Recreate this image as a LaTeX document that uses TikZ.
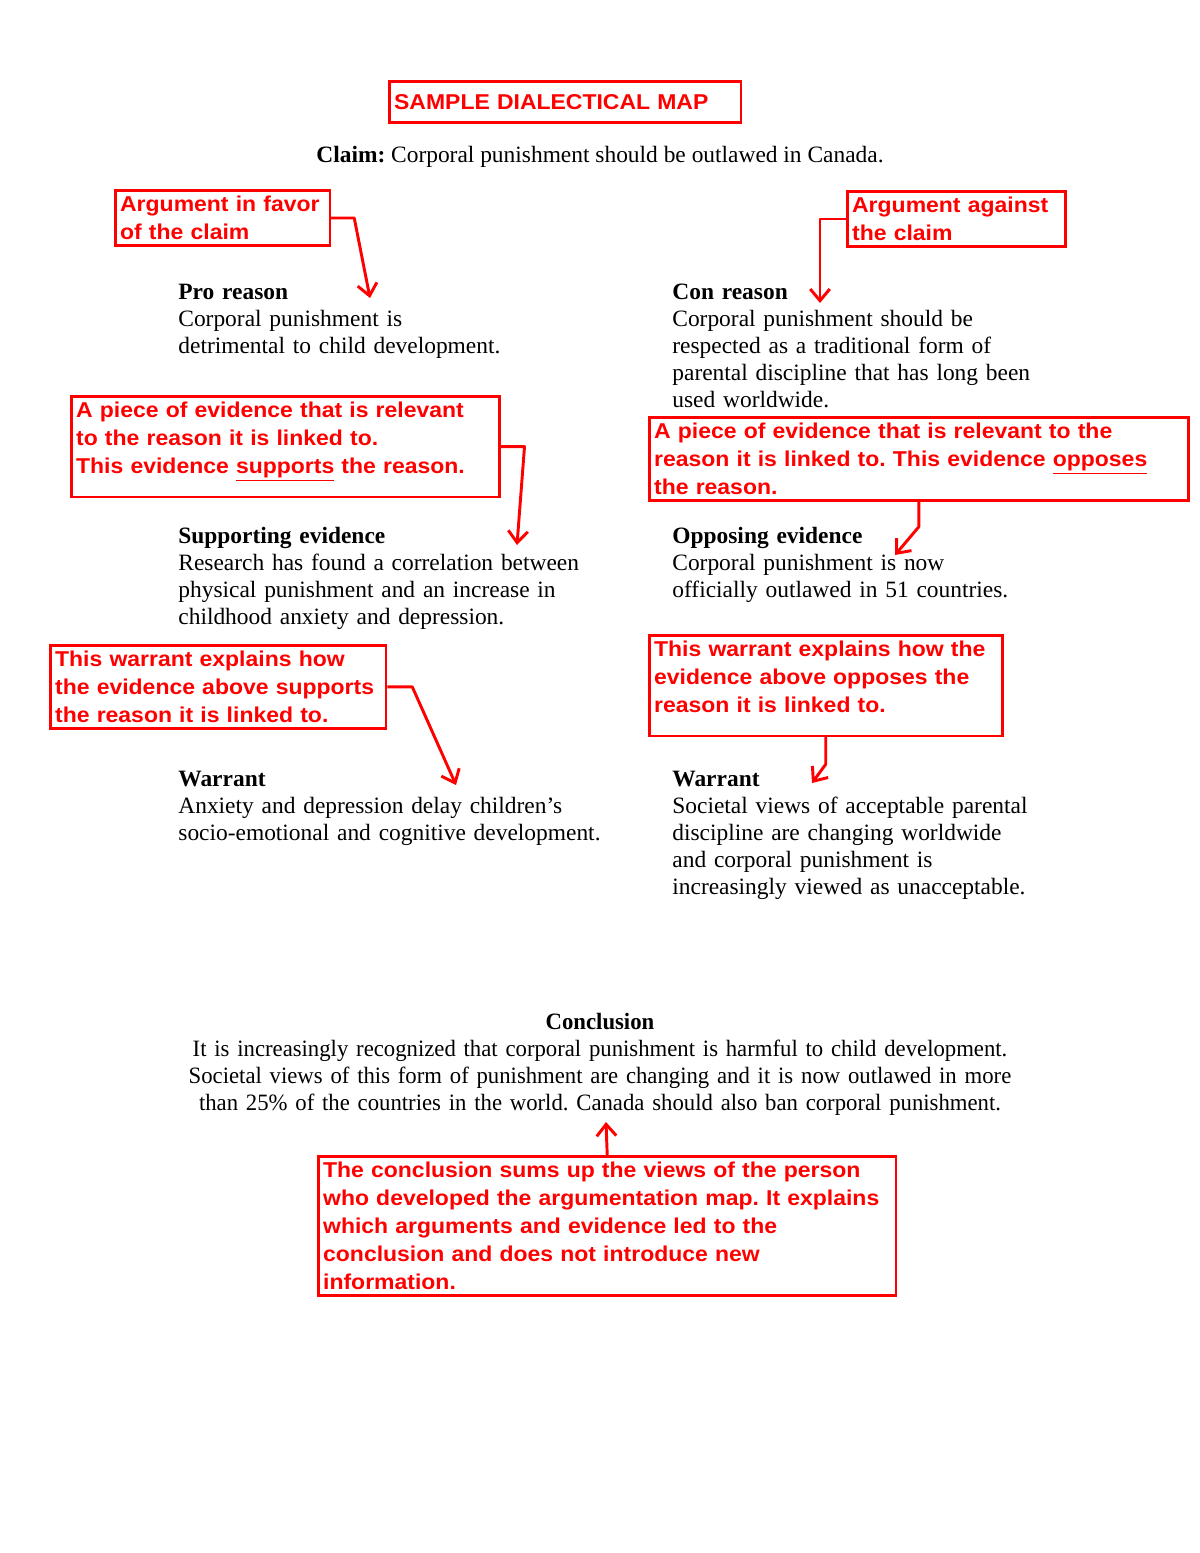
\documentclass[tikz,border=0pt]{standalone}
\usepackage{fontspec}
\setmainfont{Liberation Serif}
\newfontfamily\arialfont{Liberation Sans}[FakeStretch=1.07]
\newfontfamily\narrowserif{Liberation Serif}[FakeStretch=0.97]
\usetikzlibrary{arrows.meta, calc}
\frenchspacing
\tikzstyle{note}   = [rectangle, draw=red, line width=1.3pt, text=red, align=left, anchor=north west,
                      inner xsep=2.5pt, inner ysep=3pt, font=\arialfont\bfseries\fontsize{11}{14.3}\selectfont]
\tikzstyle{body}   = [anchor=north west, align=left, inner sep=0pt, text width=9cm,
                      font=\fontsize{12}{13.8}\selectfont]
\tikzstyle{arrow}  = [red, line width=1.5pt, line join=round, -{Straight Barb[length=6pt, width=10pt]}]

\begin{document}
\begin{tikzpicture}[x=0.018cm, y=-0.018cm]
  \useasboundingbox (0,0) rectangle (1200,1553);

  \node[note, text width=6.16cm, minimum height=0.74cm] (title) at (388,80) {SAMPLE DIALECTICAL MAP};
  \node[anchor=base, font=\fontsize{12}{13.8}\selectfont] (claim) at (600,162) {\textbf{Claim:} Corporal punishment should be outlawed in Canada.};

  \node[note, text width=3.69cm] (favor)   at (114,189) {Argument in favor\\ of the claim};
  \node[note, text width=3.75cm] (against) at (846,190) {Argument against\\ the claim};

  \node[body] (pro) at (178,284) {\textbf{Pro reason}\\ Corporal punishment is\\ detrimental to child development.};
  \node[body] (con) at (672,284) {\textbf{Con reason}\\ Corporal punishment should be\\ respected as a traditional form of\\ parental discipline that has long been\\ used worldwide.};

  \node[note, text width=7.53cm] (support) at (70,395) {A piece of evidence that is relevant\\ to the reason it is linked to.\\ This evidence \underline{supports} the reason.\rule[-9pt]{0pt}{0pt}};
  \node[note, text width=9.53cm] (oppose)  at (648,416) {A piece of evidence that is relevant to the\\ reason it is linked to. This evidence \underline{opposes}\\ the reason.};

  \node[body] (suppev) at (178,527) {\textbf{Supporting evidence}\\ Research has found a correlation between\\ physical punishment and an increase in\\ childhood anxiety and depression.};
  \node[body] (oppev)  at (672,527) {\textbf{Opposing evidence}\\ Corporal punishment is now\\ officially outlawed in 51 countries.};

  \node[note, text width=5.87cm] (wsupnote) at (49,644)  {This warrant explains how\\ the evidence above supports\\ the reason it is linked to.};
  \node[note, text width=6.18cm] (woppnote) at (648,634) {This warrant explains how the\\ evidence above opposes the\\ reason it is linked to.\rule[-9pt]{0pt}{0pt}};

  \node[body] (wsup) at (178,771) {\textbf{Warrant}\\ Anxiety and depression delay children’s\\ socio-emotional and cognitive development.};
  \node[body] (wopp) at (672,771) {\textbf{Warrant}\\ Societal views of acceptable parental\\ discipline are changing worldwide\\ and corporal punishment is\\ increasingly viewed as unacceptable.};

  \node[anchor=north, align=center, inner sep=0pt, text width=16cm, font=\narrowserif\fontsize{12}{13.8}\selectfont] (concl) at (600,1013)
    {\textbf{Conclusion}\\ It is increasingly recognized that corporal punishment is harmful to child development.\\ Societal views of this form of punishment are changing and it is now outlawed in more\\ than 25\% of the countries in the world. Canada should also ban corporal punishment.};
  \node[note, text width=10.23cm] (conclnote) at (317,1155)
    {The conclusion sums up the views of the person\\ who developed the argumentation map. It explains\\ which arguments and evidence led to the\\ conclusion and does not introduce new\\ information.};

  \coordinate (protip)   at (370,298);
  \coordinate (contip)   at (820,303);
  \coordinate (supptip)  at (517,545);
  \coordinate (opptip)   at (895,555);
  \coordinate (wsuptip)  at (456,785);
  \coordinate (wopptip)  at (812,783);
  \coordinate (concltip) at (606,1122);

  \draw[arrow] (favor.east) -- ++(23,0) -- (protip);
  \draw[arrow] (against.west) -| (contip);
  \draw[arrow] (support.east) -- ++(24,0) -- (supptip);
  \draw[arrow] (oppose.south) -- ++(0,25) -- (opptip);
  \draw[arrow] (wsupnote.east) -- ++(25,0) -- (wsuptip);
  \draw[arrow] (woppnote.south) -- ++(0,27) -- (wopptip);
  \draw[arrow] (conclnote.north) -- (concltip);
\end{tikzpicture}
\end{document}
